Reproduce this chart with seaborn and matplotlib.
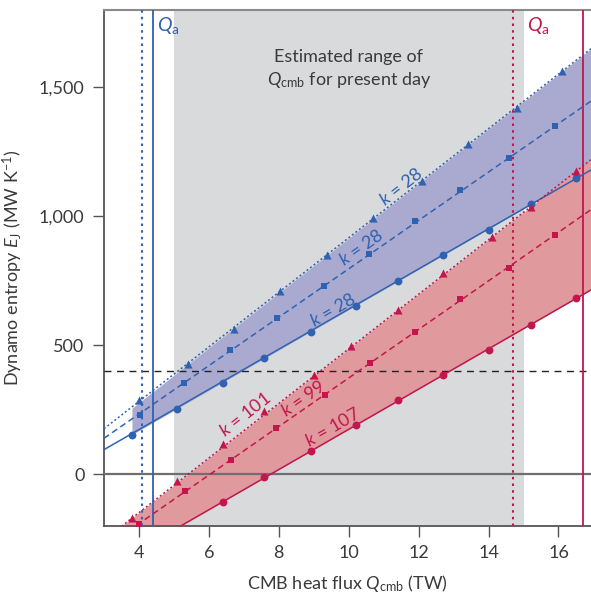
import numpy as np
import pandas as pd
import matplotlib
matplotlib.use("Agg")
import matplotlib.pyplot as plt
import seaborn as sns

# ---------------- data ----------------
blue_tri_x = [4.00, 5.39, 6.72, 8.03, 9.39, 10.69, 12.11, 13.40, 14.80, 16.10]
blue_tri_y = [287, 429, 565, 709, 851, 995, 1137, 1279, 1421, 1563]
blue_sq_x = [4.02, 5.30, 6.61, 7.95, 9.30, 10.59, 11.90, 13.19, 14.59, 15.90]
blue_sq_y = [231, 355, 484, 606, 729, 855, 981, 1101, 1225, 1350]
blue_ci_x = [3.80, 5.09, 6.39, 7.59, 8.91, 10.20, 11.40, 12.69, 14.00, 15.20, 16.50]
blue_ci_y = [154, 255, 355, 452, 552, 652, 749, 850, 948, 1047, 1147]

red_tri_x = [3.80, 5.10, 6.39, 7.59, 9.00, 10.07, 11.40, 12.70, 14.09, 15.20, 16.50]
red_tri_y = [-169, -26, 116, 244, 386, 498, 636, 779, 921, 1035, 1176]
red_sq_x = [4.00, 5.31, 6.62, 7.91, 9.31, 10.60, 11.90, 13.19, 14.59, 15.90]
red_sq_y = [-191, -65, 54, 180, 306, 433, 553, 680, 800, 929]
red_ci_x = [6.39, 7.59, 8.91, 10.20, 11.40, 12.69, 14.00, 15.20, 16.50]
red_ci_y = [-107, -9, 90, 190, 290, 384, 484, 581, 682]

# line end points (left axis edge, right axis edge)
line_x = [3.0, 16.93]
blue_dot_line = [177, 1650]
blue_dash_line = [140, 1447]
blue_solid_line = [96, 1180]
red_dot_line = [-254, 1220]
red_dash_line = [-285, 1026]
red_solid_line = [-371, 715]

# shaded bands
blue_band_x = [3.80, 16.93]
blue_band_hi = [257, 1650]
blue_band_lo = [154, 1180]
red_band_x = [3.0, 16.93]
red_band_hi = [-254, 1220]
red_band_lo = [-371, 715]

present_range = [5.0, 15.0]
blue_qa_dotted = 4.09
blue_qa_solid = 4.40
red_qa_dotted = 14.69
red_qa_solid = 16.70
threshold = 400

x_ticks = [4, 6, 8, 10, 12, 14, 16]
y_ticks = [0, 500, 1000, 1500]
y_tick_labels = ["0", "500", "1,000", "1,500"]

blue_labels = ["$k$ = 28", "$k$ = 28", "$k$ = 28"]
blue_label_pos = [(11.51, 1114, 38), (10.37, 881, 35), (9.56, 636, 30)]
red_labels = ["$k$ = 101", "$k$ = 99", "$k$ = 107"]
red_label_pos = [(7.03, 233, 38), (8.70, 293, 35), (9.53, 184, 30)]

# ---------------- style ----------------
sns.set_theme(style="ticks")
FONT = "Lato"
plt.rcParams["font.family"] = [FONT, "DejaVu Sans"]
plt.rcParams["mathtext.fontset"] = "custom"
plt.rcParams["mathtext.rm"] = FONT
plt.rcParams["mathtext.it"] = FONT + ":italic"
plt.rcParams["mathtext.bf"] = FONT + ":bold"

BLUE = "#2f62b0"
BLUE_FILL = "#aaaad0"
RED = "#c2164c"
RED_FILL = "#e09a9d"
GRAY_SPAN = "#d9dadc"
TXT = "#3a3a3a"
FS = 13

fig = plt.figure(figsize=(5.91, 5.93), dpi=100)
ax = fig.add_axes([104 / 591, 67 / 593, 487 / 591, 516 / 593])
ax.set_xlim(3.0, 16.93)
ax.set_ylim(-200, 1800)

# gray range
ax.axvspan(present_range[0], present_range[1], color=GRAY_SPAN, lw=0, zorder=0)

# bands
ax.fill_between(blue_band_x, blue_band_lo, blue_band_hi, color=BLUE_FILL, lw=0, zorder=1)
ax.fill_between(red_band_x, red_band_lo, red_band_hi, color=RED_FILL, lw=0, zorder=2)

# reference lines
ax.axhline(0, color="#6f6f6f", lw=1.6, zorder=3)
ax.axhline(threshold, color="#222222", lw=1.0, ls=(0, (5, 4)), zorder=3)
ax.axvline(blue_qa_dotted, color=BLUE, lw=1.5, ls=(0, (1.2, 2)), zorder=3)
ax.axvline(blue_qa_solid, color=BLUE, lw=1.3, zorder=3)
ax.axvline(red_qa_dotted, color=RED, lw=1.5, ls=(0, (1.2, 2)), zorder=3)
ax.axvline(red_qa_solid, color=RED, lw=1.3, zorder=3)

# lines
lines = pd.DataFrame({
    "x": line_x * 6,
    "y": blue_dot_line + blue_dash_line + blue_solid_line + red_dot_line + red_dash_line + red_solid_line,
    "s": ["bdot"] * 2 + ["bdash"] * 2 + ["bsolid"] * 2 + ["rdot"] * 2 + ["rdash"] * 2 + ["rsolid"] * 2,
})
styles = {
    "bdot": (BLUE, (0, (1.3, 1.6))),
    "bdash": (BLUE, (0, (4, 2.5))),
    "bsolid": (BLUE, "-"),
    "rdot": (RED, (0, (1.3, 1.6))),
    "rdash": (RED, (0, (4, 2.5))),
    "rsolid": (RED, "-"),
}
for key, (c, ls) in styles.items():
    sub = lines[lines["s"] == key]
    sns.lineplot(data=sub, x="x", y="y", ax=ax, color=c, lw=1.1, zorder=4,
                 estimator=None, sort=False)
    ax.lines[-1].set_linestyle(ls)

# markers
def pts(xs, ys):
    return pd.DataFrame({"x": xs, "y": ys})

marker_sets = [
    (blue_tri_x, blue_tri_y, BLUE, "^", 34),
    (blue_sq_x, blue_sq_y, BLUE, "s", 22),
    (blue_ci_x, blue_ci_y, BLUE, "o", 32),
    (red_tri_x, red_tri_y, RED, "^", 34),
    (red_sq_x, red_sq_y, RED, "s", 22),
    (red_ci_x, red_ci_y, RED, "o", 32),
]
for xs, ys, c, m, s in marker_sets:
    sns.scatterplot(data=pts(xs, ys), x="x", y="y", ax=ax, color=c, marker=m,
                    s=s, linewidth=0, zorder=5, clip_on=True)

# k labels
for lab, (x, y, r) in zip(blue_labels, blue_label_pos):
    ax.text(x, y, lab, color=BLUE, fontsize=FS, rotation=r, rotation_mode="anchor",
            ha="center", va="center", zorder=6)
for lab, (x, y, r) in zip(red_labels, red_label_pos):
    ax.text(x, y, lab, color=RED, fontsize=FS, rotation=r, rotation_mode="anchor",
            ha="center", va="center", zorder=6)

# annotations
ax.text(10.0, 1570, "Estimated range of\n$Q_{\\mathrm{cmb}}$ for present day", color=TXT,
        fontsize=FS, ha="center", va="center", linespacing=1.35, zorder=6)
ax.text(4.52, 1738, "$Q_{\\mathrm{a}}$", color=BLUE, fontsize=FS + 1, ha="left", va="center", zorder=6)
ax.text(15.1, 1738, "$Q_{\\mathrm{a}}$", color=RED, fontsize=FS + 1, ha="left", va="center", zorder=6)

# axes
ax.set_xticks(x_ticks)
ax.set_xticklabels([str(t) for t in x_ticks])
ax.set_yticks(y_ticks)
ax.set_yticklabels(y_tick_labels)
ax.tick_params(axis="both", labelsize=FS, length=8, width=1.0, direction="out", pad=6,
               colors="#555555", labelcolor=TXT)
ax.set_xlabel("CMB heat flux $Q_{\\mathrm{cmb}}$ (TW)", fontsize=FS, color=TXT, labelpad=8)
ax.set_ylabel("Dynamo entropy $E_{\\mathrm{J}}$ (MW K$^{-1}$)", fontsize=FS, color=TXT, labelpad=10)

for side in ["left", "bottom"]:
    ax.spines[side].set_color("#555555")
    ax.spines[side].set_linewidth(1.3)
ax.spines["top"].set_visible(True)
ax.spines["top"].set_color("#8a8a8a")
ax.spines["top"].set_linewidth(1.5)
ax.spines["right"].set_visible(False)
ax.set_facecolor("white")
ax.grid(False)
if ax.get_legend():
    ax.get_legend().remove()

fig.savefig("out.png", dpi=100)
